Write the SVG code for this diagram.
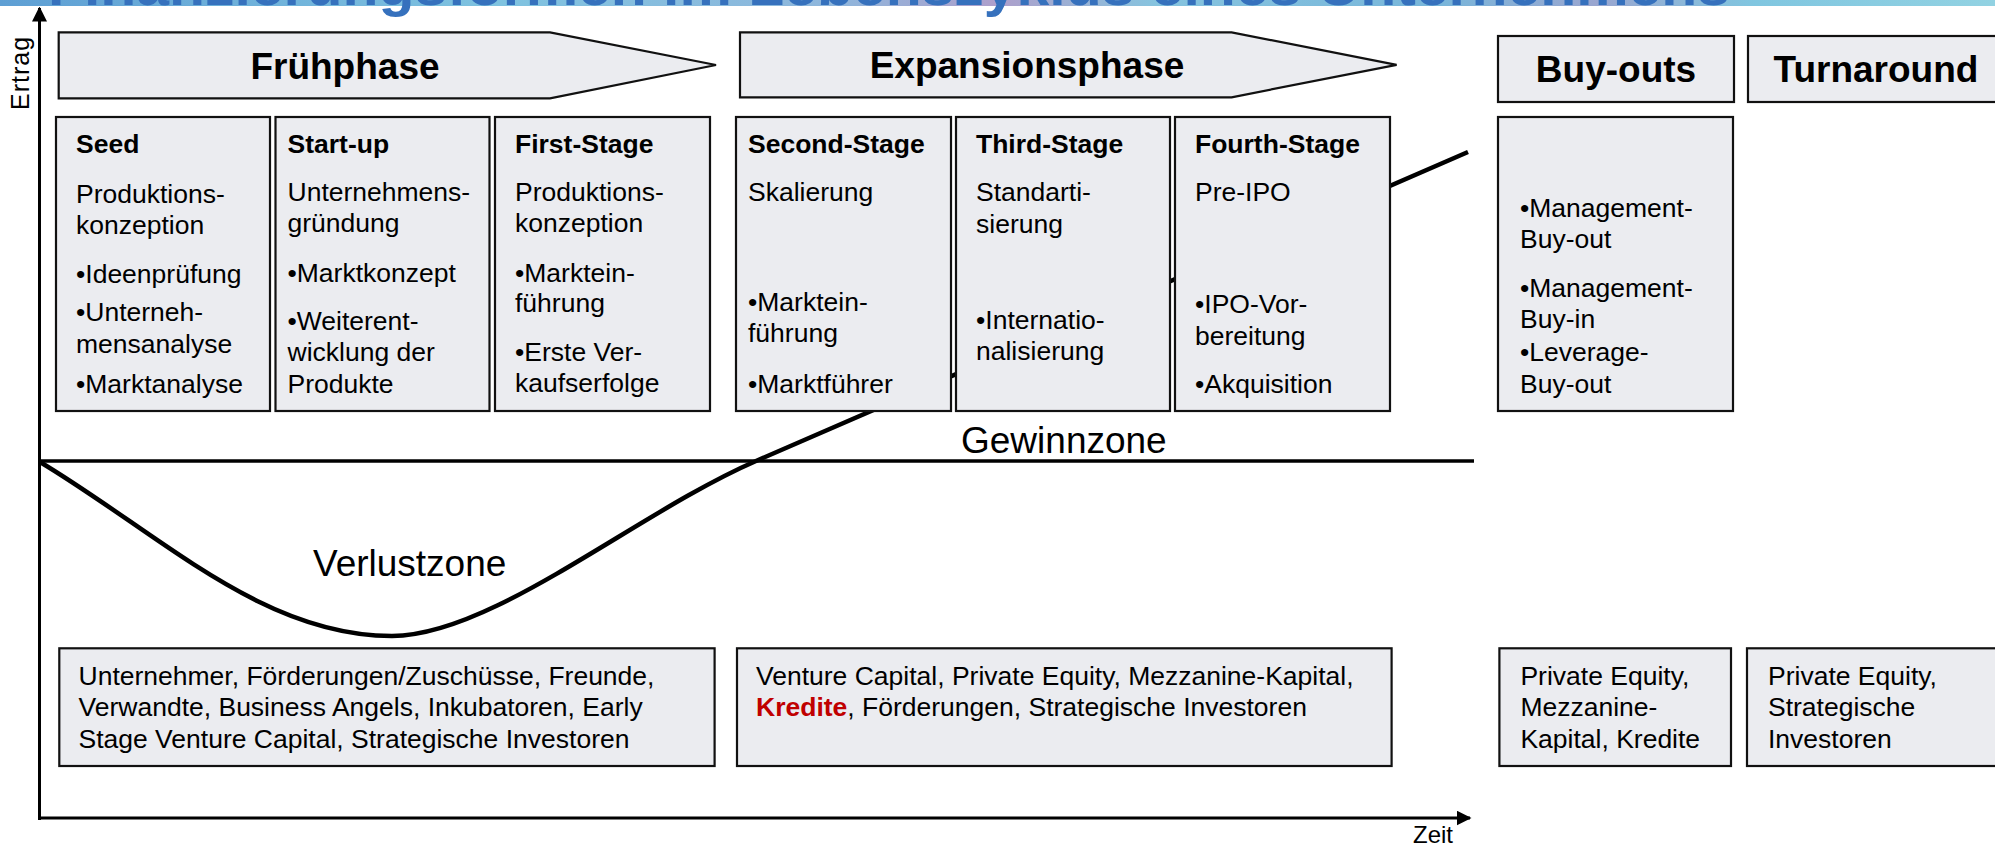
<svg xmlns="http://www.w3.org/2000/svg" width="1995" height="847" viewBox="0 0 1995 847">
<defs>
<linearGradient id="band" x1="0" y1="0" x2="1" y2="0">
<stop offset="0" stop-color="#5e9fd4"/>
<stop offset="0.25" stop-color="#7fc3e0"/>
<stop offset="0.42" stop-color="#8fb6dc"/>
<stop offset="0.5" stop-color="#ae9fcb"/>
<stop offset="0.58" stop-color="#86c4df"/>
<stop offset="0.72" stop-color="#78b6da"/>
<stop offset="0.8" stop-color="#9aa6d0"/>
<stop offset="0.88" stop-color="#80c6e0"/>
<stop offset="1" stop-color="#92d2e2"/>
</linearGradient>
<marker id="arr" viewBox="0 0 10 10" refX="9" refY="5" markerWidth="5" markerHeight="5" markerUnits="strokeWidth" orient="auto">
<path d="M0,0 L10,5 L0,10 Z" fill="#000"/>
</marker>
<style>
.box{fill:#ebecf0;stroke:#111;stroke-width:2.2}
.t{font-family:"Liberation Sans",Arial,sans-serif;font-size:26.5px;fill:#000}
.b{font-weight:bold}
.ph{font-family:"Liberation Sans",Arial,sans-serif;font-size:37px;font-weight:bold;fill:#000;text-anchor:middle}
.zone{font-family:"Liberation Sans",Arial,sans-serif;font-size:37px;fill:#000}
.ax{stroke:#000;stroke-width:3;fill:none}
</style>
</defs>

<g id="title">
<rect x="0" y="0" width="1995" height="6" fill="url(#band)"/>
<text x="48" y="5" font-family="'Liberation Sans',Arial,sans-serif" font-size="58" font-weight="bold" fill="#3671bd" textLength="1682" lengthAdjust="spacingAndGlyphs">Finanzierungsformen im Lebenszyklus eines Unternehmens</text>
</g>

<g id="connectors">
<line class="ax" x1="39.5" y1="820" x2="39.5" y2="8" marker-end="url(#arr)"/>
<line class="ax" x1="38" y1="818" x2="1470" y2="818" marker-end="url(#arr)"/>
<line x1="39" y1="461" x2="1474" y2="461" stroke="#000" stroke-width="3.5"/>
<path d="M40,462 C160,534 262,636 392,636 C492,636 636,513.2 756,461 L1468,152" fill="none" stroke="#000" stroke-width="4.5"/>
</g>

<g id="axis-labels">
<text class="t" font-size="25" transform="translate(29,73) rotate(-90)" text-anchor="middle" letter-spacing="1" style="font-size:25px">Ertrag</text>
<text class="t" x="1453" y="843" text-anchor="end" style="font-size:24px">Zeit</text>
<text class="zone" x="961" y="453">Gewinnzone</text>
<text class="zone" x="313" y="576">Verlustzone</text>
</g>

<g id="phase-fruehphase">
<polygon class="box" points="58.7,32.3 550,32.3 716,65 550,98.3 58.7,98.3"/>
<text class="ph" x="345" y="78.5">Frühphase</text>
</g>
<g id="phase-expansionsphase">
<polygon class="box" points="740,32.3 1231.6,32.3 1396.6,64.8 1231.6,97.3 740,97.3"/>
<text class="ph" x="1027" y="78">Expansionsphase</text>
</g>
<g id="phase-buyouts">
<rect class="box" x="1498" y="36" width="236" height="66"/>
<text class="ph" x="1616" y="82">Buy-outs</text>
</g>
<g id="phase-turnaround">
<rect class="box" x="1748" y="36" width="256" height="66"/>
<text class="ph" x="1876" y="82">Turnaround</text>
</g>

<g id="stage-seed">
<rect class="box" x="56" y="117" width="214" height="294"/>
<text class="t"><tspan class="b" x="76" y="153">Seed</tspan><tspan x="76" y="202.5">Produktions-</tspan><tspan x="76" y="234">konzeption</tspan><tspan x="76" y="283">•Ideenprüfung</tspan><tspan x="76" y="321">•Unterneh-</tspan><tspan x="76" y="352.5">mensanalyse</tspan><tspan x="76" y="392.5">•Marktanalyse</tspan></text>
</g>
<g id="stage-startup">
<rect class="box" x="275.5" y="117" width="214" height="294"/>
<text class="t"><tspan class="b" x="287.5" y="153">Start-up</tspan><tspan x="287.5" y="200.5">Unternehmens-</tspan><tspan x="287.5" y="232">gründung</tspan><tspan x="287.5" y="281.5">•Marktkonzept</tspan><tspan x="287.5" y="329.5">•Weiterent-</tspan><tspan x="287.5" y="361">wicklung der</tspan><tspan x="287.5" y="392.5">Produkte</tspan></text>
</g>
<g id="stage-first">
<rect class="box" x="495" y="117" width="215" height="294"/>
<text class="t"><tspan class="b" x="515" y="153">First-Stage</tspan><tspan x="515" y="200.5">Produktions-</tspan><tspan x="515" y="232">konzeption</tspan><tspan x="515" y="281.5">•Marktein-</tspan><tspan x="515" y="312">führung</tspan><tspan x="515" y="360.5">•Erste Ver-</tspan><tspan x="515" y="391.5">kaufserfolge</tspan></text>
</g>
<g id="stage-second">
<rect class="box" x="736" y="117" width="215" height="294"/>
<text class="t"><tspan class="b" x="748" y="153">Second-Stage</tspan><tspan x="748" y="201">Skalierung</tspan><tspan x="748" y="310.5">•Marktein-</tspan><tspan x="748" y="342">führung</tspan><tspan x="748" y="392.5">•Marktführer</tspan></text>
</g>
<g id="stage-third">
<rect class="box" x="956" y="117" width="214" height="294"/>
<text class="t"><tspan class="b" x="976" y="153">Third-Stage</tspan><tspan x="976" y="201">Standarti-</tspan><tspan x="976" y="232.5">sierung</tspan><tspan x="976" y="328.5">•Internatio-</tspan><tspan x="976" y="360">nalisierung</tspan></text>
</g>
<g id="stage-fourth">
<rect class="box" x="1175" y="117" width="215" height="294"/>
<text class="t"><tspan class="b" x="1195" y="153">Fourth-Stage</tspan><tspan x="1195" y="201">Pre-IPO</tspan><tspan x="1195" y="313">•IPO-Vor-</tspan><tspan x="1195" y="344.5">bereitung</tspan><tspan x="1195" y="392.5">•Akquisition</tspan></text>
</g>
<g id="stage-buyouts">
<rect class="box" x="1498" y="117" width="235" height="294"/>
<text class="t"><tspan x="1520" y="216.5">•Management-</tspan><tspan x="1520" y="248">Buy-out</tspan><tspan x="1520" y="296.5">•Management-</tspan><tspan x="1520" y="328">Buy-in</tspan><tspan x="1520" y="361">•Leverage-</tspan><tspan x="1520" y="392.5">Buy-out</tspan></text>
</g>

<g id="fin-fruehphase">
<rect class="box" x="59.3" y="648.3" width="655.3" height="117.7"/>
<text class="t"><tspan x="78.5" y="684.5">Unternehmer, Förderungen/Zuschüsse, Freunde,</tspan><tspan x="78.5" y="716">Verwandte, Business Angels, Inkubatoren, Early</tspan><tspan x="78.5" y="747.5">Stage Venture Capital, Strategische Investoren</tspan></text>
</g>
<g id="fin-expansionsphase">
<rect class="box" x="737" y="648.3" width="654.6" height="117.7"/>
<text class="t"><tspan x="756" y="684.5">Venture Capital, Private Equity, Mezzanine-Kapital,</tspan><tspan x="756" y="716" font-weight="bold" fill="#c00000">Kredite</tspan><tspan>, Förderungen, Strategische Investoren</tspan></text>
</g>
<g id="fin-buyouts">
<rect class="box" x="1499.4" y="648.3" width="231.6" height="117.7"/>
<text class="t"><tspan x="1520.4" y="684.5">Private Equity,</tspan><tspan x="1520.4" y="716">Mezzanine-</tspan><tspan x="1520.4" y="747.5">Kapital, Kredite</tspan></text>
</g>
<g id="fin-turnaround">
<rect class="box" x="1747" y="648.3" width="263" height="117.7"/>
<text class="t"><tspan x="1768" y="684.5">Private Equity,</tspan><tspan x="1768" y="716">Strategische</tspan><tspan x="1768" y="747.5">Investoren</tspan></text>
</g>
</svg>
